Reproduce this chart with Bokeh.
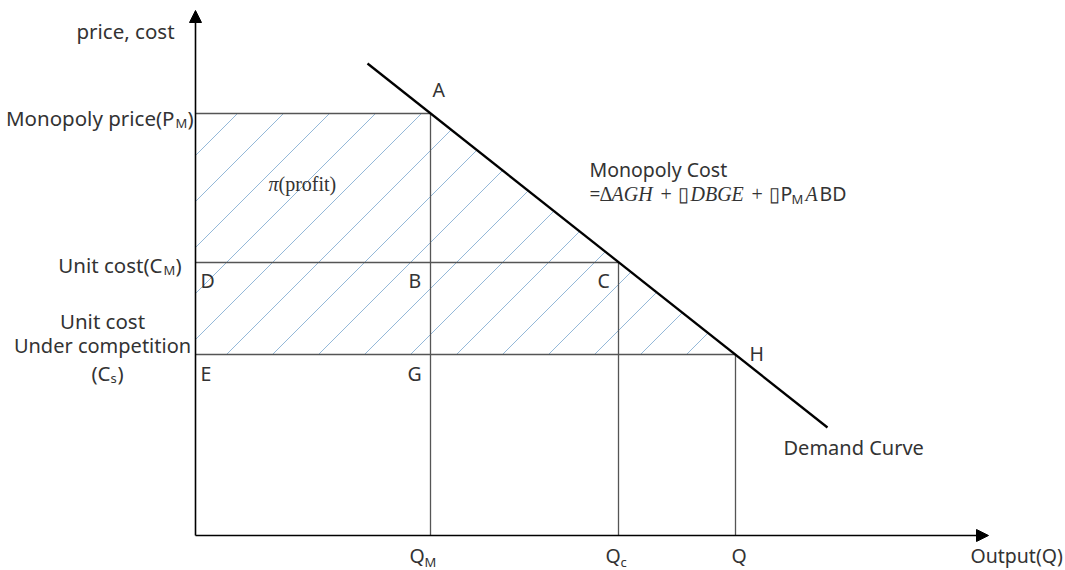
from bokeh.plotting import figure
from bokeh.models import Label, Arrow, NormalHead
from bokeh.embed import file_html
from bokeh.resources import INLINE

# ---- diagram values (schematic units) ----
q_names = ["Q", "Q", "Q"]
q_subs = ["M", "c", ""]
q_values = [235, 423, 540]            # Q_M, Q_c, Q
price_names = ["P_M", "C_M", "C_s"]
price_values = [422, 273, 181]         # P_M, C_M, C_s
demand_x = [172, 632]                  # demand curve end points
demand_y = [472, 108]
axis_x_end = 793
axis_y_end = 525
hatch_step = 46                        # horizontal spacing of hatch lines
hatch_phase = 380                      # intercept of first hatch line

SANS = "Noto Sans"
SERIF = "Liberation Serif"
TXT = "#333333"

p = figure(width=1065, height=570, x_range=(-195, 870), y_range=(-35, 535),
           output_backend="svg", toolbar_location=None, tools="", min_border=0,
           x_axis_location=None, y_axis_location=None)
p.grid.visible = False
p.outline_line_color = None
p.background_fill_color = "white"
p.border_fill_color = "white"

PM, CM, CS = price_values
QM, QC, QQ = q_values

# hatched region P_M -> A -> H -> C_s : 45-degree lines clipped to the region
s = (CS - PM) / (QQ - QM)
hx0, hy0, hx1, hy1 = [], [], [], []
b = hatch_phase
while b > CS - QQ - hatch_step:
    t_lo = max(0.0, CS - b)
    t_hi = min(PM - b, (PM - s * QM - b) / (1 - s))
    if t_hi > t_lo:
        hx0.append(t_lo); hy0.append(t_lo + b)
        hx1.append(t_hi); hy1.append(t_hi + b)
    b -= hatch_step
p.segment(x0=hx0, y0=hy0, x1=hx1, y1=hy1, line_color="#94b8d8", line_width=1.0)

# guide lines
p.segment(x0=[0] * 3, y0=price_values, x1=q_values, y1=price_values,
          line_color="#555555", line_width=1.3)
p.segment(x0=q_values, y0=[0] * 3, x1=q_values, y1=price_values,
          line_color="#555555", line_width=1.3)

# demand curve
p.line(demand_x, demand_y, line_color="black", line_width=2.3)

# axes with arrow heads
p.add_layout(Arrow(end=NormalHead(size=12, fill_color="black", line_color="black"),
                   x_start=0, y_start=0, x_end=axis_x_end, y_end=0,
                   line_color="black", line_width=1.6))
p.add_layout(Arrow(end=NormalHead(size=12, fill_color="black", line_color="black"),
                   x_start=0, y_start=0, x_end=0, y_end=axis_y_end,
                   line_color="black", line_width=1.6))


def lab(x, y, text, size=19.5, font=SANS, align="left", style="normal", color=TXT):
    p.add_layout(Label(x=x, y=y, text=text, text_font=font,
                       text_font_size=f"{size}px", text_align=align,
                       text_baseline="middle", text_color=color,
                       text_font_style=style))


# axis titles
lab(-70, 505, "price, cost", size=20.5, align="center")
lab(775, -20, "Output(Q)")

# price-axis labels with subscripts
lab(-21, PM - 4, "Monopoly price(P", size=20.5, align="right")
lab(-20, PM - 9, "M", size=13)
lab(-8, PM - 4, ")", size=20.5)

lab(-33, CM - 2, "Unit cost(C", size=20.5, align="right")
lab(-32, CM - 7, "M", size=13)
lab(-20, CM - 2, ")", size=20.5)

lab(-93, 215, "Unit cost", size=20.5, align="center")
lab(-93, 190, "Under competition", size=20, align="center")
lab(-85, 163, "(C", size=20.5, align="right")
lab(-85, 158, "s", size=13)
lab(-78, 163, ")", size=20.5)

# quantity-axis labels
q_left = [214, 410, 536]
for name, sub, xl in zip(q_names, q_subs, q_left):
    lab(xl, -20, name)
    if sub:
        lab(xl + 15, -26, sub, size=13)

# point labels
lab(5, CM - 18, "D")
lab(QM - 22, CM - 18, "B")
lab(QC - 21, CM - 18, "C")
lab(5, CS - 19, "E")
lab(QM - 23, CS - 19, "G")
lab(QM + 2, 446, "A")
lab(QQ + 14, CS + 1, "H")

# annotations
lab(588, 88, "Demand Curve", size=20)
lab(73, 352, "\u03c0", font=SERIF, style="italic", size=20)
lab(83, 352, "(profit)", font=SERIF, size=20)

lab(394, 366, "Monopoly Cost")
pieces = [
    ("=", 394, SANS, "normal", 19, 0),
    ("\u0394", 404, SERIF, "normal", 20, 0),
    ("AGH", 416, SERIF, "italic", 20, 0),
    ("+", 465, SERIF, "normal", 20, 0),
    ("\u25af", 482, SANS, "normal", 20, 0),
    ("DBGE", 495, SERIF, "italic", 20, 0),
    ("+", 556, SERIF, "normal", 20, 0),
    ("\u25af", 573, SANS, "normal", 20, 0),
    ("P", 585, SANS, "normal", 19.5, 0),
    ("M", 596, SANS, "normal", 13, -5),
    ("A", 610, SERIF, "italic", 20, 0),
    ("BD", 624, SANS, "normal", 19.5, 0),
]
for t, xl, f, st, sz, dy in pieces:
    lab(xl, 342 + dy, t, size=sz, font=f, style=st)

open("out.html", "w").write(file_html(p, INLINE))
